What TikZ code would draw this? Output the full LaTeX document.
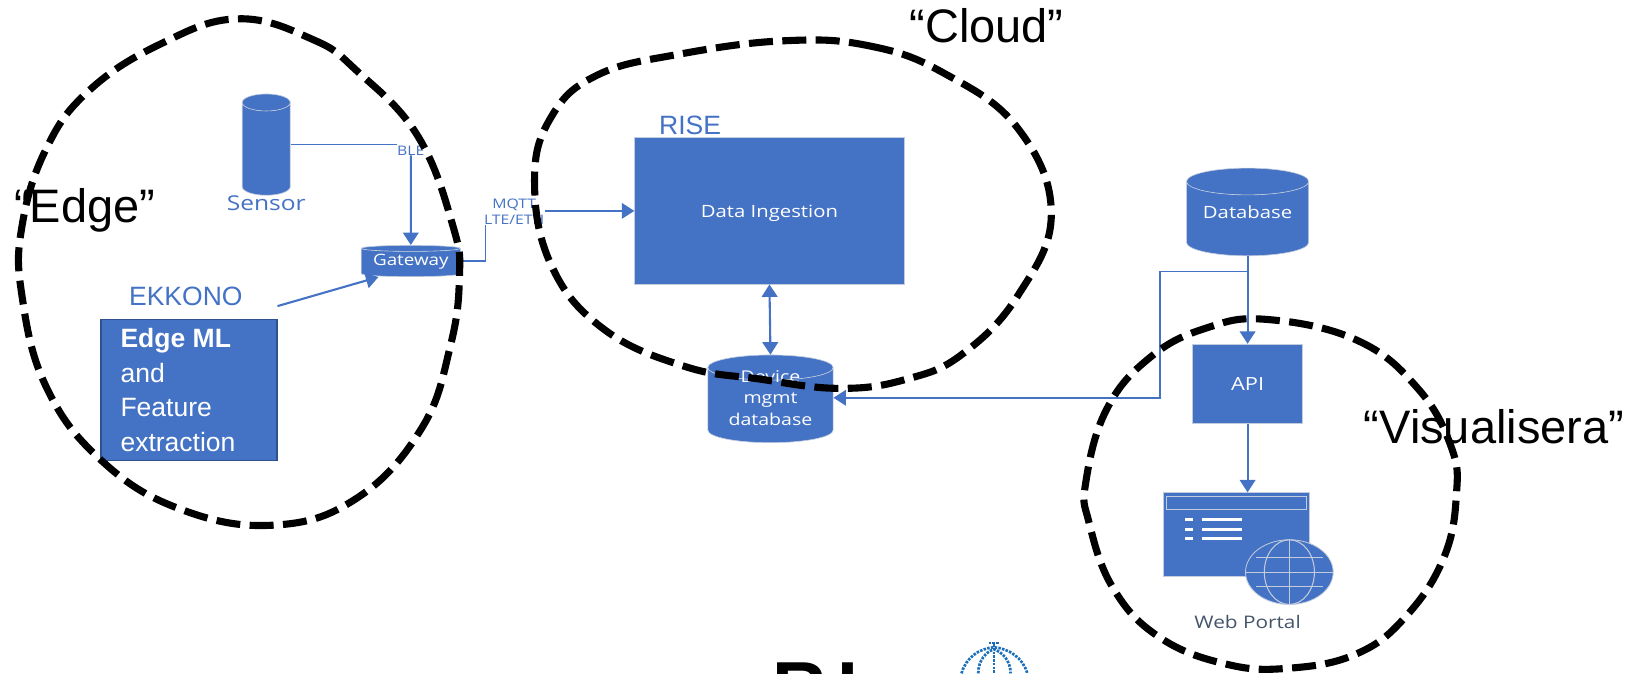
\documentclass[tikz,border=0pt]{standalone}
\usepackage{fontspec}
\setmainfont{Liberation Sans}
\newfontfamily\uifont[FakeStretch=1.2]{Open Sans}
\usetikzlibrary{arrows.meta,positioning,shapes.geometric}

\definecolor{officeblue}{HTML}{4472C4}
\definecolor{boxedge}{HTML}{C3CCDD}
\definecolor{mledge}{HTML}{2F528F}
\definecolor{portalink}{HTML}{44546A}
\definecolor{crownblue}{HTML}{1A6FBA}

\tikzset{
	box/.style={rectangle, draw=boxedge, fill=officeblue, text=white, inner sep=0pt, font=\uifont\fontsize{8.1}{10}\selectfont},
	drum/.style={cylinder, shape border rotate=90, anchor=shape center, cylinder uses custom fill, cylinder body fill=officeblue, cylinder end fill=officeblue, draw=boxedge, line width=0.3pt, text=white, inner sep=0pt, align=center, text height=0pt, text depth=0pt, font=\uifont\fontsize{8.1}{10.25}\selectfont},
	tag/.style={text=officeblue, inner sep=0pt, font=\fontsize{12.7}{14}\selectfont},
	small/.style={text=officeblue, inner sep=0pt, align=center, font=\uifont\fontsize{6.3}{7.5}\selectfont},
	zone/.style={text=black, inner sep=0pt, font=\fontsize{22.5}{26}\selectfont},
	flow/.style={officeblue, line width=1pt, -{Triangle[length=6pt,width=7.5pt]}},
	thinflow/.style={officeblue, line width=0.7pt, -{Triangle[length=6pt,width=7.5pt]}},
	bothflow/.style={officeblue, line width=1pt, {Triangle[length=6pt,width=7.5pt]}-{Triangle[length=6pt,width=7.5pt]}},
	blob/.style={draw=black, line width=3.4pt, dash pattern=on 11.5pt off 4.5pt},
	crown/.style={draw=crownblue, line width=1.3pt, dash pattern=on 1.2pt off 0.6pt}
}

\begin{document}
\begin{tikzpicture}[x=0.5pt, y=-0.5pt, on grid]
	\useasboundingbox (0,0) rectangle (1568,645);

	\node[drum, aspect=1.6, minimum width=23pt, minimum height=48.5pt] (sensor) at (255,138.5) {\phantom{x}};
	\node[text=officeblue, inner sep=0pt, font=\uifont\fontsize{9.8}{10}\selectfont, below=0pt of sensor.south] (sensorlabel) {Sensor};
	\node[drum, aspect=0.08, minimum width=47.5pt, minimum height=15pt, text height=3pt, font=\uifont\fontsize{7.5}{10}\selectfont] (gateway) at (393.5,250) {Gateway};
	\node[small] (ble) at (393.5,144) {BLE};
	\node[small] (mqtt) at (492.5,203) {MQTT\\LTE/ETH};
	\node[tag] (ekkono) at (178,284) {EKKONO};
	\node[rectangle, draw=mledge, line width=0.8pt, fill=officeblue, text=white, inner sep=0pt, minimum width=84pt, minimum height=67.5pt, align=left, font=\fontsize{12.7}{16.5}\selectfont] (edgeml) at (181,373.5) {\hspace*{-10.5pt}\textbf{Edge ML}\\\hspace*{-10.5pt}and\\\hspace*{-10.5pt}Feature\\\hspace*{-10.5pt}extraction};

	\node[box, minimum width=129pt, minimum height=70pt, text height=7.5pt, text depth=1.2pt] (ingest) at (737,202) {Data Ingestion};
	\node[tag] (rise) at (661,120) {RISE};
	\node[drum, aspect=0.3, minimum width=60pt, minimum height=42pt, text height=19pt, font=\uifont\fontsize{7.8}{10.25}\selectfont] (device) at (738,382) {Device\\mgmt\\database};

	\node[drum, aspect=0.3, minimum width=58.5pt, minimum height=42pt] (database) at (1195,203) {Database};
	\node[box, minimum width=52.5pt, minimum height=38pt, font=\uifont\fontsize{8.7}{10}\selectfont, below=42pt of database.south] (api) {API};
	\node[box, minimum width=70pt, minimum height=40pt] (web) at (1184,512) {};
	\node[draw=boxedge, inner sep=0pt, minimum width=67pt, minimum height=6.5pt] (webbar) at (1184,481.5) {};
	\foreach \y in {498,507,516} {
		\fill[white] (1135,\y-1.5) rectangle (1143,\y+1.5);
		\fill[white] (1151,\y-1.5) rectangle (1190,\y+1.5);
	}
	\node[ellipse, draw=boxedge, fill=officeblue, inner sep=0pt, minimum width=42pt, minimum height=31pt] (globe) at (1235,548) {};
	\draw[boxedge, line width=0.5pt] (globe) ellipse (24 and 31);
	\draw[boxedge, line width=0.5pt] (globe.north) -- (globe.south);
	\draw[boxedge, line width=0.5pt] (globe.west) -- (globe.east);
	\draw[boxedge, line width=0.5pt] (1203,534) -- (1267,534) (1203,562) -- (1267,562);
	\node[text=portalink, inner sep=0pt, font=\uifont\fontsize{8.3}{10}\selectfont] (weblabel) at (1195,596) {Web Portal};

	\node[zone] (edgezone) at (81,201) {“Edge”};
	\node[zone] (cloudzone) at (945,25) {“Cloud”};
	\node[zone] (viszone) at (1431,409) {“Visualisera”};

	\node[anchor=base west, inner sep=0pt, font=\fontsize{36}{40}\selectfont\bfseries] (logotext) at (740,684) {R\kern5pt I};
	\draw[crown] (921,645) .. controls (925,630) and (938,621) .. (952,620) .. controls (966,621) and (980,630) .. (984,645);
	\draw[crown] (937,645) .. controls (937,632) and (945,624) .. (952,622) .. controls (959,624) and (968,632) .. (968,645);
	\draw[crown] (952,617) -- (952,645);
	\draw[crown] (947,616) -- (957,616);

	\coordinate[below=7.5pt of database.south] (tap);
	\coordinate (turn) at (1111,381);

	\draw[officeblue, line width=0.7pt] (sensor.east |- sensor.shape center) -- (sensor.shape center -| ble.west);
	\draw[officeblue, line width=0.7pt] (gateway.east |- gateway.shape center) -| ([xshift=1pt]mqtt.south west);
	\path
		(ble.south) edge[flow] (gateway.north)
		(mqtt.east |- ingest.west) edge[thinflow] (ingest.west)
		([yshift=6pt]edgeml.north east) edge[flow] ([xshift=-15.5pt]gateway.south)
		(ingest.south) edge[bothflow] (device.north)
		(database.south) edge[flow] (api.north)
		(api.south) edge[flow] (api.south |- web.north);
	\draw[thinflow] (tap) -- (tap -| turn) -- (turn) -- (turn -| device.east);

	\draw[blob] plot[smooth cycle, tension=.7] coordinates {(228,18) (300,38) (342,68) (400,130) (434,217) (440,267) (431,333) (404,410) (342,477) (262,503) (171,487) (96,440) (44,370) (21,283) (21,217) (44,143) (85,87) (154,42)};
	\draw[blob] plot[smooth cycle, tension=.7] coordinates {(752,39) (833,44) (904,70) (975,123) (1007,205) (975,283) (922,339) (869,363) (805,372) (727,363) (656,351) (578,315) (528,254) (512,173) (528,112) (572,72) (650,52)};
	\draw[blob] plot[smooth cycle, tension=.7] coordinates {(1214,306) (1300,326) (1358,372) (1390,428) (1395,474) (1383,534) (1347,590) (1300,626) (1235,640) (1174,636) (1110,610) (1066,563) (1043,500) (1040,462) (1060,392) (1102,342) (1156,314)};
\end{tikzpicture}
\end{document}
